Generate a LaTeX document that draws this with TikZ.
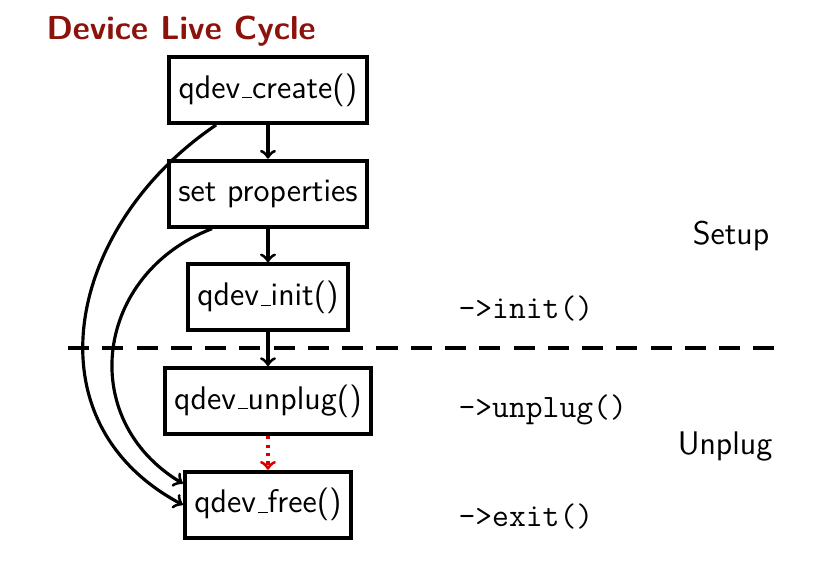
\documentclass[tikz,border=0pt]{standalone}
\usepackage{xcolor}
\usepackage{tikz}
\usetikzlibrary{positioning, arrows.meta}
\definecolor{titlered}{RGB}{140, 18, 12}
\definecolor{freered}{RGB}{215, 0, 0}
\newcommand{\uscore}{\kern.06em\vbox{\hrule width .3em}}
\tikzset{
    fnbox/.style={
        draw, line width=1.5pt, minimum height=0.88cm, inner xsep=3.6pt, fill=white,
        font=\sffamily\fontsize{12.4}{14}\selectfont
    },
    flow/.style={
        ->, >=to, line width=1.2pt
    },
    calllabel/.style={
        anchor=west, font=\ttfamily\fontsize{12.4}{14}\selectfont
    },
    phaselabel/.style={
        font=\sffamily\fontsize{12.4}{14}\selectfont
    }
}
\begin{document}
\begin{tikzpicture}[node distance=0.45cm]
    \useasboundingbox (0,0) rectangle (11,-7.533);

    % title
    \node[anchor=base west, inner sep=0pt, text=titlered, font=\sffamily\bfseries\fontsize{12.6}{15}\selectfont] (title) at (0.613,-0.533) {Device Live Cycle};

    % lifecycle boxes
    \node[fnbox] (create) at (3.573,-1.2) {qdev\uscore create()};
    \node[fnbox, below=of create] (setprop) {set properties};
    \node[fnbox, below=of setprop] (init) {qdev\uscore init()};
    \node[fnbox, below=of init] (unplug) {qdev\uscore unplug()};
    \node[fnbox, below=of unplug] (free) {qdev\uscore free()};

    % setup / unplug border
    \coordinate (cutL) at (0.907,-4.64);
    \coordinate (cutR) at (10.427,-4.64);
    \draw[line width=1.2pt, dash pattern=on 8pt off 5pt] (cutL) -- (cutR);

    % straight steps
    \draw[flow] (create) -- (setprop);
    \draw[flow] (setprop) -- (init);
    \draw[flow] (init) -- (unplug);
    \draw[flow, freered, dotted] (unplug) -- (free);

    % shortcuts to free
    \draw[flow] (create.214) to[out=214, in=152, looseness=1.2] (free.west);
    \draw[flow] (setprop.212) to[out=201, in=149, looseness=1.25] (free.166);

    % callbacks
    \node[calllabel] (cbinit) at (5.99,-4.12) {->init()};
    \node[calllabel] (cbunplug) at (5.99,-5.467) {->unplug()};
    \node[calllabel] (cbexit) at (5.99,-6.893) {->exit()};

    % phases
    \node[phaselabel] (setup) at (9.747,-3.147) {Setup};
    \node[phaselabel] (unplugphase) at (9.667,-5.96) {Unplug};
\end{tikzpicture}
\end{document}
